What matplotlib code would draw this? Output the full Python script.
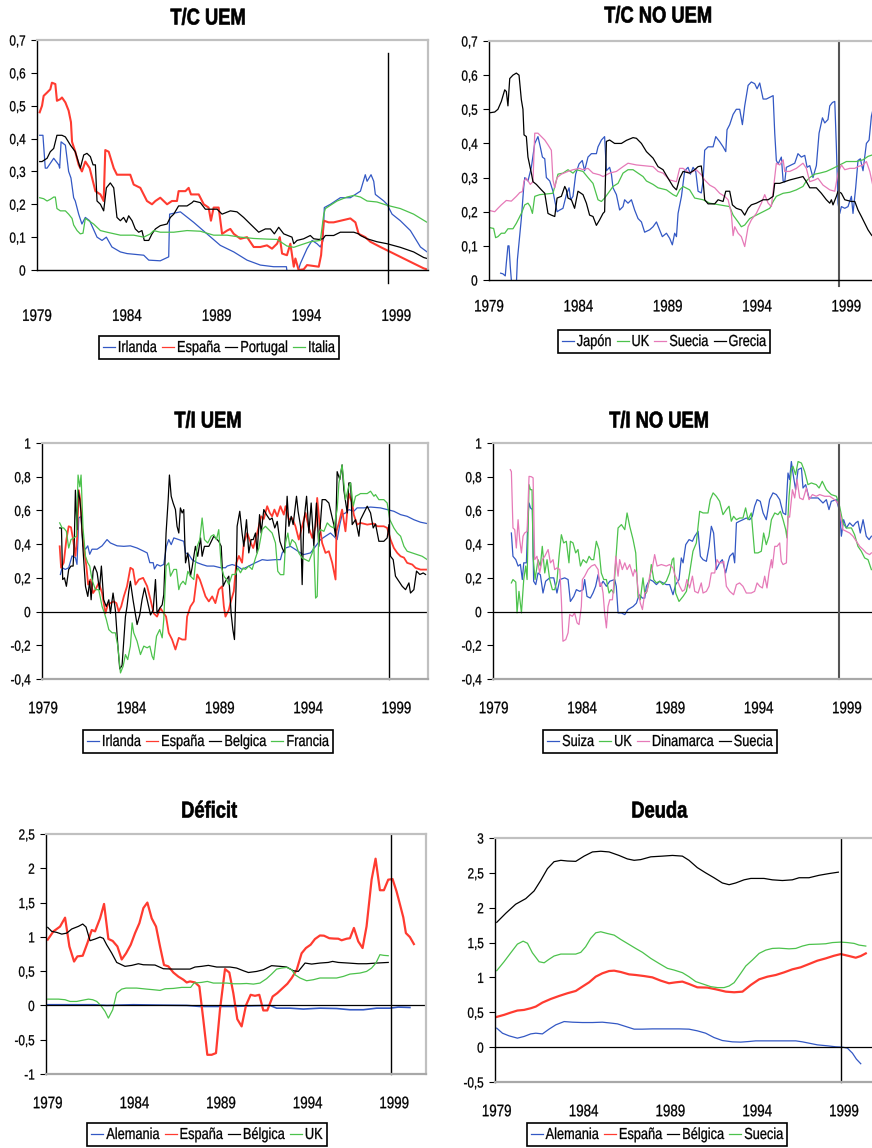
import matplotlib
matplotlib.use('Agg')
import matplotlib.pyplot as plt
import numpy as np
from matplotlib.patheffects import AbstractPathEffect
from matplotlib.transforms import Affine2D
from matplotlib.patches import Rectangle
from matplotlib.lines import Line2D

# ---------------- data (t = years since 1979) ----------------
# T/C UEM
tc_irl_t = [0.15,0.33,0.46,0.56,0.93,1.21,1.26,1.34,1.58,1.76,
            1.89,2.04,2.13,2.32,2.50,2.69,2.93,3.34,3.62,3.86,
            4.17,4.64,5.01,5.94,6.22,6.86,7.33,7.38,7.98,8.72,
            9.46,10.20,10.95,11.69,12.43,13.17,13.88,13.95,14.43,14.66,
            15.03,15.31,15.58,15.77,15.92,15.99,16.33,16.88,17.44,18.0,
            18.27,18.37,18.59,18.74,18.83,19.30,19.48,19.76,20.22,20.78,
            21.34,21.71]
tc_irl_v = [.41,.41,.31,.31,.34,.32,.31,.39,.38,.30,
            .28,.22,.21,.17,.14,.16,.15,.10,.09,.10,
            .07,.055,.05,.045,.03,.028,.04,.17,.177,.145,
            .11,.075,.055,.03,.015,.01,.01,-.02,-.02,.02,
            .065,.09,.08,.07,.09,.19,.20,.22,.22,.24,
            .29,.27,.29,.27,.23,.21,.20,.17,.15,.12,
            .07,.055]
tc_esp_t = [.15,.28,.37,.56,.74,.83,1.02,1.11,1.30,1.39,
            1.58,1.76,1.89,1.95,2.13,2.32,2.50,2.69,2.93,3.25,
            3.53,3.71,3.80,3.99,4.27,4.45,4.82,5.19,5.38,5.75,
            6.12,6.40,6.59,6.86,7.24,7.51,7.79,7.88,8.26,8.44,
            8.57,9.0,9.28,9.55,9.68,9.83,10.11,10.30,10.58,10.76,
            10.95,11.32,11.69,12.06,12.43,12.80,13.08,13.36,13.51,13.64,
            13.91,14.10,14.29,14.38,14.56,14.84,15.03,15.68,15.81,15.96,
            16.23,16.51,17.44,17.72,17.90,18.27,18.55,19.11,19.48,20.22,
            20.96,21.52,21.71]
tc_esp_v = [.48,.50,.53,.54,.55,.57,.566,.515,.52,.525,
            .51,.485,.45,.39,.36,.32,.30,.33,.31,.24,
            .23,.21,.365,.36,.31,.29,.29,.29,.26,.25,
            .21,.20,.21,.22,.20,.21,.21,.24,.24,.25,
            .23,.23,.20,.19,.15,.19,.19,.11,.12,.125,
            .11,.095,.10,.07,.07,.075,.065,.08,.10,.05,
            .045,.08,.01,.035,0.0,.002,.015,.01,.045,.15,
            .145,.145,.157,.145,.11,.10,.086,.07,.06,.04,
            .02,.005,.002]
tc_por_t = [.15,.28,.56,.74,.93,1.11,1.39,1.58,1.86,2.13,
            2.41,2.60,2.78,2.97,3.12,3.25,3.34,3.53,3.71,3.86,
            4.08,4.27,4.45,4.64,4.82,4.97,5.10,5.29,5.47,5.66,
            5.84,5.97,6.22,6.40,6.59,6.86,7.24,7.42,7.61,7.88,
            8.35,8.63,8.72,9.09,9.37,10.02,10.30,10.76,11.13,11.50,
            11.87,12.34,12.71,12.99,13.21,13.45,13.73,14.19,14.29,14.47,
            14.84,15.21,15.40,15.68,15.92,16.05,16.51,16.88,17.63,17.90,
            18.0,18.37,18.92,19.48,20.22,20.96,21.52,21.71]
tc_por_v = [.33,.33,.34,.36,.37,.41,.41,.405,.38,.36,
            .31,.35,.355,.345,.32,.32,.21,.20,.18,.25,
            .265,.25,.16,.15,.16,.145,.165,.15,.125,.115,
            .12,.09,.09,.11,.125,.135,.14,.16,.17,.195,
            .195,.205,.21,.205,.185,.185,.17,.18,.177,.16,
            .14,.115,.125,.125,.11,.13,.11,.10,.08,.09,
            .095,.105,.095,.093,.095,.105,.105,.115,.115,.11,
            .105,.095,.086,.08,.069,.055,.038,.035]
tc_ita_t = [.15,.37,.56,.74,.93,1.02,1.11,1.30,1.58,1.76,
            1.95,2.04,2.23,2.41,2.56,2.69,2.88,3.15,3.53,3.90,
            4.64,5.38,5.94,6.31,6.49,6.86,7.61,8.35,9.09,9.83,
            10.58,11.32,12.06,12.80,13.36,13.91,14.29,14.66,15.21,15.77,
            15.96,16.05,16.33,16.70,17.25,17.63,18.0,18.37,18.92,19.48,
            20.22,20.96,21.71]
tc_ita_v = [.22,.217,.21,.215,.222,.222,.187,.18,.18,.17,
            .157,.137,.12,.11,.112,.157,.15,.14,.12,.115,
            .106,.106,.10,.11,.12,.115,.115,.12,.118,.106,
            .106,.10,.096,.094,.093,.073,.069,.076,.086,.09,
            .17,.187,.197,.21,.222,.227,.222,.21,.207,.197,
            .187,.17,.145]

# T/C NO UEM
tcn_jap_t = [.65,.78,.91,.97,1.06,1.12,1.19,1.25,1.35,1.5,
             1.59,1.68,1.81,1.94,2.0,2.18,2.37,2.56,2.74,2.87,
             2.99,3.12,3.21,3.40,3.58,3.69,3.81,3.96,4.14,4.33,
             4.48,4.57,4.70,4.85,5.04,5.22,5.35,5.54,5.73,6.01,
             6.10,6.29,6.38,6.47,6.57,6.75,6.85,6.94,7.13,7.31,
             7.50,7.59,7.78,7.97,8.15,8.34,8.53,8.71,8.99,9.18,
             9.37,9.55,9.70,9.93,10.11,10.26,10.39,10.49,10.58,10.77,
             10.95,11.14,11.27,11.42,11.57,11.70,11.88,11.98,12.07,12.26,
             12.54,12.69,12.91,13.10,13.25,13.32,13.47,13.66,13.84,14.03,
             14.18,14.31,14.50,14.68,14.87,15.0,15.15,15.34,15.52,15.71,
             15.90,15.99,16.08,16.18,16.36,16.46,16.55,16.64,16.92,17.11,
             17.29,17.48,17.67,17.80,17.95,18.13,18.32,18.47,18.66,18.79,
             18.97,19.07,19.22,19.35,19.44,19.53,19.63,19.72,19.91,20.09,
             20.28,20.37,20.52,20.65,20.78,20.93,21.12,21.27,21.40,21.49]
tcn_jap_v = [.02,.018,.012,.05,.10,.10,.04,0,-.05,-.05,
             .06,.11,.18,.27,.30,.29,.33,.40,.42,.39,
             .36,.355,.30,.29,.26,.23,.20,.205,.21,.25,
             .27,.235,.245,.31,.34,.35,.32,.36,.37,.37,
             .39,.41,.415,.42,.32,.33,.31,.27,.25,.205,
             .215,.235,.225,.235,.205,.18,.17,.14,.147,.156,
             .17,.147,.127,.137,.122,.103,.137,.127,.195,.245,
             .32,.33,.31,.33,.318,.26,.255,.29,.38,.39,
             .39,.42,.405,.39,.376,.44,.455,.485,.50,.50,
             .455,.51,.57,.58,.575,.56,.577,.53,.53,.535,
             .54,.43,.35,.34,.36,.29,.287,.33,.337,.342,
             .37,.36,.365,.33,.335,.30,.335,.43,.475,.46,
             .47,.51,.52,.523,.39,.225,.195,.215,.21,.215,
             .245,.195,.27,.35,.355,.32,.40,.41,.48,.50]
tcn_uk_t = [.07,.26,.37,.50,.69,.88,1.06,1.34,1.53,1.81,
            2.0,2.18,2.31,2.43,2.56,2.84,3.21,3.58,3.68,3.86,
            4.14,4.42,4.70,4.89,5.26,5.54,5.82,6.10,6.29,6.47,
            6.75,6.94,7.22,7.50,7.78,8.06,8.34,8.62,8.81,9.18,
            9.46,9.93,10.30,10.49,10.67,10.86,11.23,11.51,11.98,12.35,
            12.91,13.47,13.66,13.94,14.12,14.31,14.59,14.96,15.34,15.71,
            15.90,16.08,16.46,16.83,17.20,17.57,17.76,17.95,18.23,18.51,
            18.88,19.25,19.63,20.0,20.56,20.93,21.21,21.49]
tcn_uk_v = [.153,.151,.124,.127,.137,.137,.15,.15,.166,.195,
            .22,.225,.215,.195,.245,.25,.252,.254,.274,.31,
            .313,.323,.313,.323,.318,.30,.283,.235,.23,.24,
            .26,.274,.283,.313,.323,.323,.313,.303,.29,.28,
            .27,.264,.25,.245,.264,.274,.264,.24,.235,.225,
            .22,.215,.19,.17,.156,.161,.18,.19,.20,.21,
            .23,.245,.254,.257,.264,.274,.29,.30,.31,.313,
            .318,.327,.337,.347,.347,.352,.362,.367]
tcn_sue_t = [.07,.32,.50,.69,.97,1.25,1.53,1.72,1.87,1.96,
             2.09,2.31,2.46,2.56,2.74,2.93,3.12,3.30,3.49,3.58,
             3.68,3.81,4.05,4.42,4.70,5.07,5.26,5.54,5.82,6.19,
             6.38,6.57,6.75,7.13,7.50,7.78,8.25,8.81,9.18,9.46,
             9.74,10.11,10.49,10.67,10.86,11.23,11.60,11.88,12.07,12.35,
             12.63,12.91,13.19,13.38,13.56,13.66,13.75,13.94,14.12,14.31,
             14.50,14.68,14.96,15.24,15.43,15.62,15.80,15.93,16.08,16.27,
             16.46,16.55,16.83,17.20,17.57,17.76,17.95,18.23,18.41,18.69,
             19.07,19.35,19.53,19.72,19.91,20.19,20.47,20.65,20.93,21.12,
             21.31,21.49]
tcn_sue_v = [.203,.20,.21,.22,.233,.231,.245,.256,.259,.29,
             .298,.28,.288,.43,.43,.42,.41,.396,.38,.293,
             .27,.30,.31,.318,.323,.327,.323,.327,.313,.308,
             .303,.308,.313,.318,.332,.342,.337,.334,.332,.318,
             .313,.293,.288,.327,.327,.313,.323,.308,.293,.278,
             .27,.254,.245,.235,.195,.13,.156,.137,.127,.098,
             .156,.176,.195,.225,.25,.225,.215,.274,.342,.337,
             .352,.318,.318,.327,.342,.327,.288,.293,.298,.278,
             .264,.26,.313,.337,.323,.327,.327,.332,.337,.347,
             .318,.274]
tcn_gre_t = [.07,.32,.50,.69,.88,.97,1.06,1.16,1.34,1.53,
             1.68,1.81,1.90,1.96,2.09,2.18,2.37,2.46,2.65,2.93,
             3.12,3.30,3.49,3.68,3.81,4.05,4.24,4.33,4.42,4.61,
             4.79,4.98,5.26,5.45,5.63,5.82,6.01,6.19,6.38,6.47,
             6.57,6.75,7.03,7.41,7.69,8.06,8.25,8.53,8.81,9.18,
             9.46,9.74,10.02,10.30,10.49,10.67,10.86,11.23,11.51,11.70,
             11.88,11.98,12.07,12.26,12.63,12.82,13.10,13.25,13.47,13.62,
             13.84,14.12,14.31,14.50,14.68,14.96,15.34,15.62,15.90,15.99,
             16.27,16.55,16.83,17.20,17.57,17.76,17.95,18.32,18.60,18.88,
             19.07,19.16,19.25,19.44,19.53,19.72,19.91,20.28,20.47,20.65,
             20.84,21.03,21.21,21.40,21.49]
tcn_gre_v = [.49,.492,.50,.523,.557,.552,.51,.59,.60,.606,
             .60,.528,.50,.425,.42,.36,.313,.288,.28,.264,
             .254,.195,.19,.186,.24,.245,.274,.264,.24,.235,
             .21,.26,.25,.225,.19,.186,.16,.176,.195,.20,
             .406,.41,.40,.40,.409,.417,.415,.40,.376,.357,
             .332,.323,.298,.274,.264,.298,.318,.313,.323,.332,
             .334,.293,.235,.223,.223,.235,.23,.26,.26,.22,
             .21,.205,.19,.21,.22,.225,.235,.235,.245,.283,
             .283,.288,.293,.298,.303,.288,.27,.27,.254,.235,
             .225,.235,.22,.245,.26,.254,.235,.23,.23,.205,
             .186,.166,.147,.132,.127]

# T/I UEM
ti_irl_t = [.98,1.08,1.26,1.45,1.64,1.83,1.92,2.02,2.15,2.26,
            2.40,2.53,2.64,2.77,3.06,3.34,3.62,3.81,4.19,4.57,
            4.94,5.32,5.70,5.89,6.04,6.23,6.30,6.45,6.64,6.83,
            6.98,7.11,7.25,7.40,7.68,7.96,8.06,8.25,8.43,8.72,
            9.0,9.28,9.66,10.04,10.32,10.42,10.70,10.98,11.26,11.64,
            12.02,12.40,12.68,13.15,13.43,13.53,13.72,14.0,14.28,14.57,
            14.75,15.13,15.42,15.70,15.98,16.26,16.45,16.64,16.79,16.92,
            17.11,17.30,17.58,17.77,18.15,18.53,19.09,19.47,19.85,20.23,
            20.60,20.98,21.36,21.74]
ti_irl_v = [.22,.26,.25,.26,.33,.32,.28,.555,.565,.39,
            .37,.39,.34,.37,.37,.39,.427,.407,.39,.387,
            .39,.377,.358,.348,.29,.29,.253,.279,.27,.28,
            .387,.427,.397,.437,.427,.417,.348,.338,.308,.29,
            .279,.27,.27,.26,.26,.27,.279,.27,.25,.27,
            .29,.308,.304,.308,.308,.348,.377,.387,.368,.348,
            .338,.348,.387,.427,.447,.466,.447,.427,.516,.575,
            .585,.605,.595,.615,.615,.62,.615,.605,.595,.575,
            .565,.545,.53,.522]
ti_esp_t = [.94,1.02,1.17,1.32,1.45,1.58,1.70,1.83,1.92,2.02,
            2.11,2.21,2.30,2.45,2.55,2.68,2.83,2.96,3.15,3.34,
            3.53,3.66,3.81,4.0,4.15,4.28,4.42,4.57,4.75,4.94,
            5.09,5.23,5.42,5.66,5.89,6.08,6.26,6.45,6.64,6.83,
            6.96,7.11,7.30,7.49,7.68,7.87,8.06,8.15,8.34,8.53,
            8.72,8.87,9.0,9.19,9.38,9.57,9.75,9.94,10.13,10.23,
            10.32,10.51,10.60,10.79,10.94,11.08,11.26,11.36,11.55,11.74,
            11.89,12.02,12.21,12.34,12.49,12.68,12.83,12.96,13.09,13.25,
            13.43,13.62,13.72,13.91,14.09,14.28,14.47,14.66,14.85,15.04,
            15.23,15.42,15.51,15.66,15.79,15.98,16.17,16.36,16.55,16.60,
            16.74,16.92,17.11,17.30,17.49,17.58,17.77,17.96,18.34,18.72,
            18.91,19.28,19.47,19.66,19.85,20.04,20.23,20.42,20.60,20.89,
            21.08,21.36,21.74]
ti_esp_v = [.387,.26,.29,.427,.506,.50,.427,.33,.427,.72,
            .66,.486,.387,.27,.16,.19,.11,.13,.17,.11,
            -.01,.04,.05,.06,.05,0,.03,.09,.15,.26,
            .25,.16,.19,.20,.15,.07,-.01,-.03,.02,-.01,
            -.03,-.126,-.166,-.225,-.156,-.166,-.166,-.03,.03,.06,
            .22,.19,.15,.09,.06,.09,.05,.13,.15,.03,
            -.03,.01,.05,.12,.29,.33,.29,.407,.466,.41,
            .377,.427,.506,.565,.55,.625,.585,.565,.605,.565,
            .625,.575,.625,.545,.555,.506,.427,.506,.585,.496,
            .437,.506,.674,.506,.407,.348,.358,.289,.19,.476,
            .526,.605,.476,.70,.644,.575,.516,.526,.516,.522,
            .506,.506,.496,.427,.377,.348,.328,.32,.289,.279,
            .259,.249,.249]
ti_bel_t = [.94,1.04,1.11,1.21,1.32,1.45,1.58,1.70,1.77,1.83,
            1.92,1.98,2.08,2.15,2.26,2.40,2.53,2.64,2.72,2.83,
            2.91,3.06,3.19,3.30,3.43,3.58,3.72,3.81,3.96,4.09,
            4.23,4.34,4.47,4.66,4.75,4.85,4.94,5.09,5.23,5.32,
            5.47,5.60,5.74,5.89,6.08,6.23,6.36,6.45,6.60,6.74,
            6.83,6.96,7.08,7.15,7.25,7.36,7.49,7.58,7.68,7.77,
            7.87,7.96,8.06,8.19,8.34,8.43,8.62,8.75,8.91,9.0,
            9.13,9.38,9.66,9.94,10.08,10.19,10.32,10.51,10.64,10.74,
            10.83,10.92,10.98,11.13,11.26,11.36,11.51,11.64,11.77,11.89,
            12.02,12.11,12.25,12.34,12.49,12.64,12.83,12.96,13.11,13.25,
            13.40,13.53,13.66,13.81,13.91,14.04,14.15,14.34,14.43,14.57,
            14.66,14.75,14.91,15.04,15.17,15.32,15.47,15.60,15.79,15.98,
            16.17,16.32,16.45,16.55,16.64,16.79,16.92,17.02,17.21,17.30,
            17.40,17.49,17.68,17.87,17.96,18.15,18.34,18.53,18.68,18.81,
            19.0,19.28,19.47,19.57,19.66,19.81,19.94,20.13,20.32,20.51,
            20.70,20.79,20.98,21.13,21.32,21.51,21.64]
ti_bel_v = [.496,.496,.19,.20,.15,.25,.27,.27,.427,.72,
            .486,.72,.664,.585,.368,.15,.09,.18,.07,.24,
            .27,.23,.13,.27,.07,.03,.07,-.01,.11,.01,
            -.2,-.34,-.32,-.03,.03,.12,.18,.07,-.02,-.077,
            -.02,.07,.14,.07,-.02,.01,.19,-.01,.02,.04,
            .10,.466,.664,.81,.684,.644,.605,.506,.466,.615,
            .585,.605,.289,.348,.21,.259,.387,.328,.437,.328,
            .387,.387,.447,.417,.387,.15,.18,.21,-.01,-.107,
            -.166,.15,.506,.595,.466,.387,.545,.348,.427,.427,
            .466,.348,.575,.466,.605,.575,.545,.555,.496,.535,
            .417,.377,.348,.684,.506,.565,.516,.684,.595,.506,
            .16,.526,.684,.466,.644,.387,.644,.387,.664,.664,
            .644,.575,.516,.447,.83,.783,.87,.72,.585,.763,
            .763,.516,.545,.447,.545,.585,.625,.585,.496,.52,
            .417,.417,.437,.516,.328,.308,.21,.18,.15,.13,
            .17,.11,.13,.24,.22,.229,.22]
ti_fra_t = [.94,1.08,1.17,1.32,1.45,1.58,1.74,1.89,1.98,2.08,
            2.15,2.26,2.40,2.53,2.64,2.77,2.96,3.15,3.34,3.47,
            3.58,3.72,3.91,4.09,4.23,4.38,4.53,4.66,4.79,4.94,
            5.04,5.13,5.32,5.51,5.70,5.89,6.04,6.17,6.26,6.42,
            6.60,6.74,6.83,6.96,7.11,7.21,7.40,7.55,7.68,7.77,
            7.92,8.06,8.19,8.34,8.53,8.72,8.87,9.0,9.13,9.32,
            9.51,9.66,9.81,9.94,10.08,10.23,10.38,10.51,10.70,10.89,
            11.02,11.17,11.32,11.45,11.64,11.83,12.02,12.21,12.40,12.58,
            12.77,12.96,13.15,13.28,13.43,13.62,13.72,13.85,13.96,14.09,
            14.28,14.47,14.66,14.85,15.04,15.23,15.32,15.42,15.51,15.60,
            15.70,15.89,16.08,16.26,16.45,16.64,16.74,16.92,17.02,17.11,
            17.30,17.40,17.55,17.68,17.87,17.96,18.34,18.53,18.72,18.81,
            19.0,19.28,19.47,19.62,19.85,20.04,20.23,20.42,20.60,20.89,
            21.17,21.45,21.74]
ti_fra_v = [.526,.496,.496,.476,.377,.427,.437,.447,.81,.74,
            .81,.496,.328,.289,.27,.19,.13,.13,.03,-.008,
            -.047,-.107,-.126,-.126,-.205,-.364,-.324,-.255,-.285,-.205,
            -.067,-.126,-.176,-.255,-.205,-.215,-.205,-.265,-.285,-.146,
            -.107,-.156,-.047,.27,.289,.21,.25,.25,.13,.16,
            .18,.16,.239,.21,.19,.387,.427,.555,.427,.407,
            .447,.456,.427,.486,.27,.21,.19,.16,.22,.22,
            .259,.23,.259,.25,.27,.25,.318,.377,.486,.506,
            .486,.466,.407,.239,.219,.219,.407,.466,.387,.427,
            .407,.348,.318,.308,.298,.348,.387,.08,.09,.466,
            .486,.476,.526,.506,.496,.605,.763,.87,.763,.664,
            .743,.763,.625,.684,.694,.70,.70,.714,.684,.694,
            .664,.664,.644,.545,.496,.466,.447,.387,.358,.348,
            .338,.328,.308]

# T/I NO UEM
tin_sui_t = [1.0,1.09,1.25,1.38,1.51,1.62,1.70,1.85,1.94,2.0,
             2.08,2.19,2.26,2.38,2.51,2.64,2.79,2.94,3.17,3.40,
             3.58,3.74,4.02,4.21,4.34,4.53,4.68,4.87,5.06,5.15,
             5.28,5.47,5.62,5.77,5.91,6.04,6.19,6.38,6.57,6.85,
             6.94,7.04,7.23,7.42,7.60,7.89,8.08,8.23,8.42,8.55,
             8.64,8.83,9.02,9.21,9.40,9.58,9.77,9.96,10.15,10.30,
             10.49,10.62,10.72,10.87,11.06,11.25,11.38,11.57,11.70,11.85,
             12.04,12.19,12.32,12.45,12.60,12.79,12.94,13.13,13.26,13.36,
             13.55,13.64,13.74,13.92,14.11,14.30,14.49,14.64,14.77,14.91,
             15.09,15.25,15.43,15.62,15.81,16.0,16.19,16.38,16.53,16.66,
             16.75,16.85,16.94,17.09,17.23,17.42,17.51,17.66,17.85,18.08,
             18.36,18.64,18.83,18.98,19.11,19.40,19.58,19.68,19.81,19.96,
             20.15,20.34,20.49,20.62,20.75,20.91,21.09,21.25,21.38]
tin_sui_v = [.466,.328,.308,.27,.28,.19,.289,.289,.565,.644,
             .615,.605,.18,.16,.229,.219,.11,.18,.20,.20,
             .11,.19,.20,.19,.06,.09,.13,.12,.13,.19,
             .09,.08,.11,.15,.219,.15,.18,.15,.18,.19,
             .15,-.008,-.008,-.018,.012,.03,.05,.10,.08,.08,
             .15,.19,.18,.16,.18,.17,.16,.16,.10,.16,
             .19,.318,.289,.397,.427,.417,.447,.476,.328,.308,
             .298,.387,.506,.466,.249,.289,.308,.229,.289,.328,
             .348,.289,.526,.536,.545,.555,.545,.565,.625,.664,
             .654,.585,.545,.664,.704,.694,.664,.585,.575,.822,
             .783,.89,.822,.723,.842,.852,.733,.753,.674,.674,
             .674,.644,.664,.605,.654,.664,.595,.447,.545,.496,
             .526,.506,.526,.536,.466,.545,.447,.427,.447]
tin_uk_t = [1.0,1.09,1.25,1.32,1.43,1.57,1.70,1.81,1.89,2.0,
            2.08,2.17,2.23,2.34,2.51,2.64,2.75,2.89,3.02,3.17,
            3.32,3.45,3.58,3.70,3.83,3.96,4.11,4.26,4.34,4.49,
            4.64,4.77,4.91,5.06,5.25,5.40,5.53,5.66,5.81,5.96,
            6.09,6.23,6.38,6.53,6.66,6.79,6.94,7.04,7.23,7.42,
            7.55,7.70,7.89,8.04,8.17,8.30,8.45,8.55,8.64,8.83,
            8.92,9.06,9.21,9.40,9.58,9.77,9.96,10.11,10.19,10.30,
            10.49,10.72,10.91,11.09,11.28,11.47,11.66,11.85,12.13,12.26,
            12.42,12.60,12.79,12.98,13.17,13.32,13.45,13.58,13.74,13.92,
            14.11,14.26,14.40,14.58,14.77,14.96,15.15,15.28,15.43,15.58,
            15.72,15.91,16.09,16.23,16.38,16.53,16.60,16.72,16.85,16.94,
            17.09,17.23,17.42,17.60,17.79,17.98,18.26,18.42,18.60,18.83,
            19.11,19.40,19.58,19.77,19.96,20.25,20.43,20.62,20.81,21.0,
            21.19,21.38]
tin_uk_v = [.17,.19,.175,-.008,.12,-.008,.19,.27,.19,.753,
            .723,.723,.328,.19,.308,.27,.387,.229,.308,.19,
            .13,.13,.18,.328,.456,.407,.417,.289,.417,.407,
            .348,.368,.27,.308,.289,.328,.308,.308,.417,.368,
            .229,.19,.19,.11,.13,.11,.348,.496,.516,.486,
            .585,.506,.427,.348,.09,.07,.20,.11,.11,.19,
            .279,.19,.17,.18,.16,.18,.229,.308,.318,.11,
            .06,.09,.12,.229,.358,.407,.595,.585,.585,.664,
            .704,.684,.654,.575,.605,.625,.536,.565,.545,.555,
            .555,.615,.545,.585,.348,.348,.358,.466,.397,.447,
            .545,.585,.575,.595,.545,.486,.437,.684,.842,.862,
            .812,.89,.881,.832,.753,.763,.753,.733,.773,.723,
            .694,.684,.625,.526,.496,.496,.456,.387,.358,.318,
            .308,.249]
tin_din_t = [.94,1.0,1.09,1.19,1.28,1.38,1.47,1.57,1.66,1.75,
             1.89,2.0,2.13,2.23,2.32,2.45,2.60,2.75,2.89,3.08,
             3.21,3.36,3.45,3.58,3.74,3.83,3.92,4.08,4.21,4.30,
             4.45,4.58,4.72,4.83,4.96,5.02,5.15,5.34,5.53,5.72,
             5.91,6.0,6.09,6.19,6.28,6.38,6.47,6.57,6.72,6.79,
             6.91,7.04,7.13,7.28,7.42,7.55,7.70,7.89,7.98,8.08,
             8.17,8.30,8.42,8.55,8.68,8.83,8.98,9.11,9.25,9.49,
             9.77,9.96,10.15,10.25,10.38,10.53,10.68,10.81,10.94,11.09,
             11.25,11.38,11.57,11.75,11.85,12.04,12.19,12.32,12.51,12.64,
             12.75,12.89,13.02,13.17,13.36,13.58,13.74,13.92,14.11,14.30,
             14.58,14.77,14.91,15.06,15.21,15.34,15.47,15.58,15.72,15.77,
             15.91,16.04,16.19,16.28,16.38,16.57,16.66,16.75,16.91,17.04,
             17.17,17.32,17.51,17.70,17.85,18.04,18.26,18.45,18.74,19.02,
             19.30,19.49,19.62,19.77,19.96,20.15,20.34,20.53,20.72,20.91,
             21.09,21.28,21.38]
tin_din_v = [.842,.83,.496,.486,.377,.545,.427,.348,.447,.466,
             .476,.802,.80,.793,.308,.328,.229,.308,.328,.368,
             .289,.308,.249,.259,.25,.07,-.176,-.166,-.126,-.018,
             -.028,-.008,-.067,-.077,.03,.19,.21,.249,.27,.279,
             .249,.15,.17,.11,-.008,-.097,.03,.07,.07,.15,
             .328,.21,.308,.249,.289,.249,.279,.21,.249,.229,
             .13,.05,.012,.11,.12,.21,.259,.338,.27,.279,
             .27,.279,.259,.219,.19,.15,.12,.13,.19,.14,
             .21,.12,.11,.17,.11,.12,.15,.229,.229,.308,
             .289,.289,.298,.15,.12,.10,.16,.17,.15,.11,
             .11,.12,.17,.15,.14,.21,.14,.229,.308,.259,
             .387,.387,.407,.298,.279,.289,.565,.56,.723,.674,
             .783,.674,.664,.733,.664,.694,.684,.694,.684,.684,
             .664,.644,.575,.486,.476,.466,.447,.417,.387,.368,
             .348,.338,.348]

# Deficit
def_esp_t = [0,.33,.71,1.0,1.25,1.52,1.71,2.02,2.29,2.54,
             2.73,3.02,3.25,3.5,3.75,4.02,4.27,4.52,4.79,5.04,
             5.29,5.52,5.75,6.0,6.25,6.48,6.71,6.96,7.25,7.54,
             7.83,8.02,8.21,8.5,8.75,8.98,9.21,9.46,9.71,9.94,
             10.23,10.48,10.71,10.94,11.19,11.44,11.71,11.96,12.21,12.44,
             12.67,12.98,13.25,13.56,13.83,14.08,14.37,14.65,14.90,15.17,
             15.42,15.71,15.94,16.25,16.52,16.77,16.96,17.25,17.44,17.67,
             17.92,18.17,18.40,18.69,18.92,19.17,19.40,19.65,19.90,20.13,
             20.33,20.52,20.67,20.90,21.13]
def_esp_v = [.96,1.08,1.15,1.28,.86,.64,.715,.725,.91,1.10,
             1.08,1.27,1.48,.97,.94,.86,.67,.76,.885,1.055,
             1.20,1.42,1.50,1.27,1.15,.86,.59,.57,.48,.42,
             .375,.335,.35,.335,.277,-.21,-.72,-.72,-.695,-.063,
             .53,.48,.18,-.2,-.306,0,.155,.14,.155,-.073,
             -.073,.13,.18,.253,.316,.40,.52,.76,.837,.885,
             .968,1.02,1.017,.98,.975,.973,.95,.973,.98,1.13,
             .934,.837,1.153,1.834,2.14,1.68,1.68,1.834,1.843,1.663,
             1.47,1.284,1.055,.997,.895]
def_bel_t = [0,.23,.52,.81,1.10,1.38,1.77,2.02,2.21,2.44,
             2.73,3.02,3.21,3.40,3.69,3.98,4.46,4.85,5.23,5.52,
             6.19,6.67,7.25,7.83,8.21,8.50,8.88,9.27,9.75,10.52,
             10.90,11.29,11.58,12.06,12.44,12.92,13.40,13.79,14.17,14.46,
             14.85,15.23,15.71,16.19,16.44,16.77,17.35,17.92,18.40,18.98,
             19.65]
def_bel_v = [1.138,1.08,1.065,1.04,1.055,1.114,1.153,1.187,1.143,.944,
             .968,.997,.978,.885,.764,.627,.57,.584,.608,.593,
             .589,.535,.53,.53,.53,.56,.57,.584,.56,.56,
             .545,.506,.48,.496,.52,.58,.57,.56,.506,.496,
             .618,.603,.618,.627,.642,.627,.618,.608,.608,.618,
             .627]
def_uk_t = [0,.62,1.0,1.29,1.67,1.96,2.35,2.60,2.83,3.06,
            3.31,3.50,3.75,3.98,4.27,4.52,5.13,5.71,6.10,6.48,
            6.77,7.25,7.73,8.25,8.44,8.88,9.21,9.56,10.33,10.71,
            11.10,11.48,11.87,12.25,12.63,12.92,13.21,13.50,13.79,14.08,
            14.27,14.56,14.94,15.33,15.71,16.19,16.67,17.06,17.44,18.02,
            18.40,18.69,18.94,19.17,19.40,19.65]
def_uk_v = [.092,.092,.083,.058,.058,.073,.092,.083,.058,0,
            -.088,-.185,-.063,.18,.238,.253,.253,.238,.229,.219,
            .243,.248,.263,.263,.326,.336,.35,.326,.326,.316,
            .316,.32,.311,.326,.39,.457,.53,.545,.555,.52,
            .447,.40,.36,.375,.40,.40,.40,.423,.457,.472,
            .496,.545,.618,.74,.73,.725]
def_ale_t = [0,1.10,2.63,3.40,4.94,6.29,8.02,8.79,9.75,10.71,
             11.87,12.83,13.21,13.98,14.75,15.71,16.67,17.44,18.21,18.98,
             19.75,20.23,20.90]
def_ale_v = [.01,.01,.01,0,.01,.005,0,-.015,-.015,-.015,
             -.005,0,-.04,-.04,-.053,-.04,-.045,-.063,-.063,-.04,
             -.04,-.024,-.03]

# Deuda
deu_bel_t = [0,.52,1.09,1.67,2.15,2.53,2.92,3.30,3.69,4.07,
             4.55,5.03,5.51,5.99,6.47,7.04,7.52,7.91,8.29,8.87,
             9.54,10.12,10.69,11.07,11.55,12.03,12.51,12.99,13.38,13.76,
             14.24,14.63,15.39,15.87,16.45,17.02,17.41,17.98,18.56,19.14,
             19.67]
deu_bel_v = [1.79,1.92,2.05,2.13,2.24,2.39,2.56,2.66,2.68,2.67,
             2.665,2.74,2.80,2.81,2.80,2.75,2.70,2.68,2.69,2.73,
             2.74,2.75,2.74,2.68,2.575,2.50,2.43,2.355,2.33,2.355,
             2.40,2.42,2.42,2.40,2.39,2.40,2.43,2.43,2.465,2.49,
             2.51]
deu_sue_t = [0,.42,.81,1.19,1.52,1.77,2.05,2.44,2.73,3.01,
             3.30,3.69,4.17,4.55,4.84,5.12,5.41,5.70,5.99,6.37,
             6.76,7.14,7.52,8.0,8.39,8.87,9.35,9.83,10.21,10.69,
             11.07,11.46,11.94,12.32,12.71,13.09,13.38,13.67,14.05,14.34,
             14.72,15.11,15.49,15.87,16.26,16.83,17.22,17.60,17.98,18.56,
             18.94,19.33,19.81,20.19,20.58,20.86,21.25]
deu_sue_v = [1.097,1.225,1.354,1.478,1.52,1.49,1.354,1.225,1.21,1.26,
             1.307,1.335,1.335,1.335,1.36,1.44,1.56,1.64,1.655,1.63,
             1.607,1.545,1.488,1.416,1.36,1.273,1.20,1.13,1.106,1.068,
             1.01,.94,.90,.868,.854,.854,.877,.925,1.059,1.164,
             1.25,1.345,1.392,1.416,1.42,1.41,1.416,1.45,1.473,1.478,
             1.483,1.50,1.507,1.50,1.488,1.464,1.45]
deu_esp_t = [0,.42,.81,1.19,1.57,1.96,2.25,2.63,3.11,3.59,
             4.07,4.55,4.93,5.32,5.70,6.08,6.47,6.76,7.14,7.62,
             8.0,8.48,8.96,9.44,9.92,10.31,10.69,11.07,11.55,12.13,
             12.61,13.19,13.67,14.15,14.63,15.11,15.59,16.07,16.55,17.02,
             17.50,17.98,18.46,18.94,19.42,19.81,20.29,20.67,20.96,21.25]
deu_esp_v = [.434,.463,.496,.525,.534,.558,.582,.639,.691,.734,
             .773,.806,.868,.93,1.011,1.059,1.092,1.097,1.078,1.044,
             1.035,1.02,1.001,.954,.916,.93,.94,.906,.858,.854,
             .83,.796,.787,.796,.892,.973,1.011,1.035,1.073,1.116,
             1.145,1.192,1.24,1.273,1.311,1.335,1.307,1.283,1.307,1.345]
deu_ale_t = [0,.33,.71,1.19,1.57,1.96,2.25,2.63,3.01,3.40,
             3.88,4.36,4.93,5.51,6.08,6.47,6.95,7.43,7.91,8.39,
             8.96,9.73,10.50,11.07,11.55,12.03,12.51,12.99,13.57,14.05,
             14.53,14.91,15.49,16.07,16.64,17.22,17.60,17.98,18.46,19.04,
             19.52,19.90,20.19,20.48,20.71,20.96]
deu_ale_v = [.272,.20,.162,.129,.153,.19,.20,.19,.258,.32,
             .367,.358,.353,.353,.358,.348,.334,.296,.258,.258,
             .262,.262,.262,.258,.234,.20,.138,.095,.076,.072,
             .081,.09,.09,.09,.09,.09,.076,.057,.033,.019,
             .005,0,-.014,-.086,-.172,-.238]

year_ticks = [1979, 1984, 1989, 1994, 1999]

# ---------------- style ----------------
plt.rcParams['font.family'] = ['Liberation Sans', 'DejaVu Sans']
SX = 0.80   # horizontal squeeze, narrow look of the original font

BLUE = '#3358c4'
RED = '#ff3b30'
GREEN = '#4cc24c'
PINK = '#e67ab8'
BLACK = '#000000'
GREY = '#c0c0c0'

W, H = 872, 1148
fig = plt.figure(figsize=(W / 100, H / 100), dpi=100)


class Squeeze(AbstractPathEffect):
    """draw text glyphs narrower (and a touch heavier), anchor side kept"""
    def __init__(self, sx, ha, stroke=0.2):
        super().__init__()
        self.sx = sx
        self.ha = ha
        self.stroke = stroke

    def draw_path(self, renderer, gc, tpath, affine, rgbFace=None):
        ext = tpath.get_extents()
        if self.ha == 'center':
            x0 = (ext.x0 + ext.x1) / 2
        elif self.ha == 'right':
            x0 = ext.x1
        else:
            x0 = 0
        tr = Affine2D().translate(-x0, 0).scale(self.sx, 1).translate(x0, 0) + affine
        gc0 = renderer.new_gc()
        gc0.copy_properties(gc)
        gc0.set_linewidth(self.stroke)
        if rgbFace is not None:
            gc0.set_foreground(rgbFace)
        renderer.draw_path(gc0, tpath, tr, rgbFace)
        gc0.restore()


def px_axes(l, t, r, b):
    return fig.add_axes([l / W, 1 - b / H, (r - l) / W, (b - t) / H])


def comma(v):
    return ('%g' % v).replace('.', ',')


def legend_px(cx, cy, entries, fs=11.5):
    r = fig.canvas.get_renderer()
    widths = []
    for _, _, _, _, lab in entries:
        t = fig.text(0, 0, lab, fontsize=fs)
        widths.append(t.get_window_extent(renderer=r).width * SX)
        t.remove()
    pad_l, pad_r, dash, gap, space, hgt = 4, 4, 12, 3, 5, 23
    total = pad_l + pad_r + sum(dash + gap + w for w in widths) + space * (len(widths) - 1)
    x = cx - total / 2
    fig.add_artist(Rectangle((x / W, 1 - (cy + hgt / 2) / H), total / W, hgt / H,
                             transform=fig.transFigure, fill=False,
                             edgecolor='black', lw=1.2))
    x += pad_l
    for (_, _, color, _, lab), w in zip(entries, widths):
        fig.add_artist(Line2D([x / W, (x + dash) / W], [1 - cy / H, 1 - cy / H],
                              transform=fig.transFigure, color=color, lw=0.9))
        x += dash + gap
        fig.text(x / W, 1 - (cy + 0.5) / H, lab, fontsize=fs, ha='left', va='center',
                 path_effects=[Squeeze(SX, 'left')])
        x += w + space


def panel(rect, xlim, ylim, yticks, series, title, title_xy, legend_xy,
          vline, xpad, bottom_black):
    ax = px_axes(*rect)
    for t, v, color, lw, label in series:
        ax.plot(1979 + np.array(t, dtype=float), v, color=color, lw=lw,
                label=label)
    ax.set_xlim(*xlim)
    ax.set_ylim(*ylim)
    ax.set_xticks(year_ticks)
    ax.set_xticklabels([str(y) for y in year_ticks])
    ax.set_yticks(yticks)
    ax.set_yticklabels([comma(y) for y in yticks])
    ax.tick_params(axis='x', length=0, pad=xpad, labelsize=12)
    ax.tick_params(axis='y', length=4, width=0.8, pad=4, labelsize=10.5,
                   direction='out')
    for lab in ax.get_xticklabels():
        lab.set_path_effects([Squeeze(SX, 'center')])
    for lab in ax.get_yticklabels():
        lab.set_path_effects([Squeeze(SX, 'right')])
    ax.spines['left'].set_color('black')
    ax.spines['left'].set_linewidth(1.0)
    for s in ('top', 'right'):
        ax.spines[s].set_color(GREY)
        ax.spines[s].set_linewidth(1.6)
    if bottom_black:
        ax.spines['bottom'].set_color('black')
        ax.spines['bottom'].set_linewidth(1.0)
    else:
        ax.spines['bottom'].set_color('#a8a8a8')
        ax.spines['bottom'].set_linewidth(1.6)
        ax.axhline(0, color='black', lw=0.9)
    vx, vy0, vy1, vcol, vlw = vline
    ax.plot([vx, vx], [vy0, vy1], color=vcol, lw=vlw, clip_on=False)
    fig.text(title_xy[0] / W, 1 - title_xy[1] / H, title, ha='center',
             va='center', fontsize=16.5, fontweight='bold',
             path_effects=[Squeeze(SX, 'center', 0.45)])
    legend_px(legend_xy[0], legend_xy[1], series)
    return ax


panel((37, 40, 428, 270), (1979, 2000.76), (0, 0.7),
      [0, .1, .2, .3, .4, .5, .6, .7],
      [(tc_irl_t, tc_irl_v, BLUE, 0.9, 'Irlanda'),
       (tc_esp_t, tc_esp_v, RED, 1.5, 'España'),
       (tc_por_t, tc_por_v, BLACK, 0.9, 'Portugal'),
       (tc_ita_t, tc_ita_v, GREEN, 0.9, 'Italia')],
      'T/C UEM', (208, 18), (219, 347),
      (1998.52, 0.66, -0.04, BLACK, 1.0), 28, True)

panel((489, 41, 900, 280), (1979, 2002.0), (0, 0.7),
      [0, .1, .2, .3, .4, .5, .6, .7],
      [(tcn_jap_t, tcn_jap_v, BLUE, 0.9, 'Japón'),
       (tcn_uk_t, tcn_uk_v, GREEN, 0.9, 'UK'),
       (tcn_sue_t, tcn_sue_v, PINK, 0.9, 'Suecia'),
       (tcn_gre_t, tcn_gre_v, BLACK, 0.9, 'Grecia')],
      'T/C NO UEM', (658, 16), (664, 341),
      (1998.57, 0.7, -0.018, '#555555', 1.5), 14, True)

panel((42, 443, 428, 679), (1978.94, 2000.78), (-0.4, 1.0),
      [-.4, -.2, 0, .2, .4, .6, .8, 1],
      [(ti_irl_t, ti_irl_v, BLUE, 0.9, 'Irlanda'),
       (ti_esp_t, ti_esp_v, RED, 1.3, 'España'),
       (ti_bel_t, ti_bel_v, BLACK, 0.9, 'Belgica'),
       (ti_fra_t, ti_fra_v, GREEN, 0.9, 'Francia')],
      'T/I UEM', (208, 421), (208, 741),
      (1998.57, 1.0, -0.4, BLACK, 1.0), 16, False)

panel((493, 443, 900, 679), (1978.96, 2002.0), (-0.4, 1.0),
      [-.4, -.2, 0, .2, .4, .6, .8, 1],
      [(tin_sui_t, tin_sui_v, BLUE, 0.9, 'Suiza'),
       (tin_uk_t, tin_uk_v, GREEN, 0.9, 'UK'),
       (tin_din_t, tin_din_v, PINK, 0.9, 'Dinamarca'),
       ([], [], BLACK, 0.9, 'Suecia')],
      'T/I NO UEM', (659, 421), (660, 741),
      (1998.55, 1.0, -0.4, '#555555', 1.5), 16, False)

panel((46, 834, 426, 1074), (1978.90, 2000.83), (-1, 2.5),
      [-1, -.5, 0, .5, 1, 1.5, 2, 2.5],
      [(def_ale_t, def_ale_v, BLUE, 1.2, 'Alemania'),
       (def_esp_t, def_esp_v, RED, 1.6, 'España'),
       (def_bel_t, def_bel_v, BLACK, 0.9, 'Bélgica'),
       (def_uk_t, def_uk_v, GREEN, 0.9, 'UK')],
      'Déficit', (209, 811), (207, 1134),
      (1998.81, 2.5, -1.0, BLACK, 1.0), 16, False)

panel((495, 838, 900, 1082), (1978.90, 2002.22), (-0.5, 3.0),
      [-.5, 0, .5, 1, 1.5, 2, 2.5, 3],
      [(deu_ale_t, deu_ale_v, BLUE, 0.9, 'Alemania'),
       (deu_esp_t, deu_esp_v, RED, 1.6, 'España'),
       (deu_bel_t, deu_bel_v, BLACK, 0.9, 'Bélgica'),
       (deu_sue_t, deu_sue_v, GREEN, 0.9, 'Suecia')],
      'Deuda', (659, 811), (657, 1134),
      (1998.81, 3.0, -0.5, BLACK, 1.0), 16, False)

fig.savefig('out.png', dpi=100)
